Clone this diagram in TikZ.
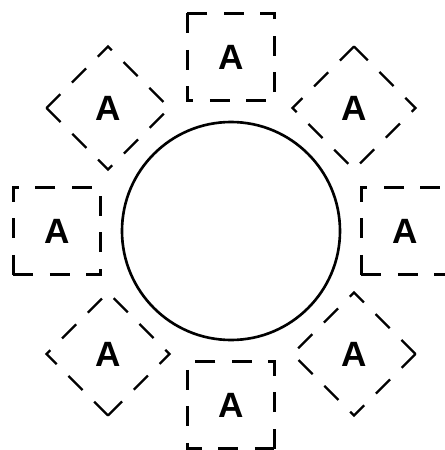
\documentclass[tikz,border=0pt]{standalone}
\usepackage{fontspec}
\setsansfont{Liberation Sans}
\usepackage{tikz}
\usetikzlibrary{positioning}
\tikzset{
  ringline/.style={draw=black, line width=1.5pt},
  hub/.style={ringline, circle, minimum size=4.36cm, inner sep=0pt},
  slotbox/.style={draw=black, line width=1.3pt, dash pattern=on 0.4cm off 0.33cm,
    rectangle, minimum size=1.74cm, inner sep=0pt},
  slotlabel/.style={font=\sffamily\bfseries\fontsize{20}{24}\selectfont, text=black, inner sep=0pt}
}
\begin{document}
\begin{tikzpicture}
\useasboundingbox (-4.62,-4.38) rectangle (4.26,4.62);
\node[hub] (ring) at (0,0) {};
\foreach \ang [count=\i] in {0,45,...,315} {
  \node[slotbox, rotate=\ang] (slot\i) at (\ang:3.48) {};
  \node[slotlabel] (lbl\i) at (slot\i.center) {A};
}
\end{tikzpicture}
\end{document}
